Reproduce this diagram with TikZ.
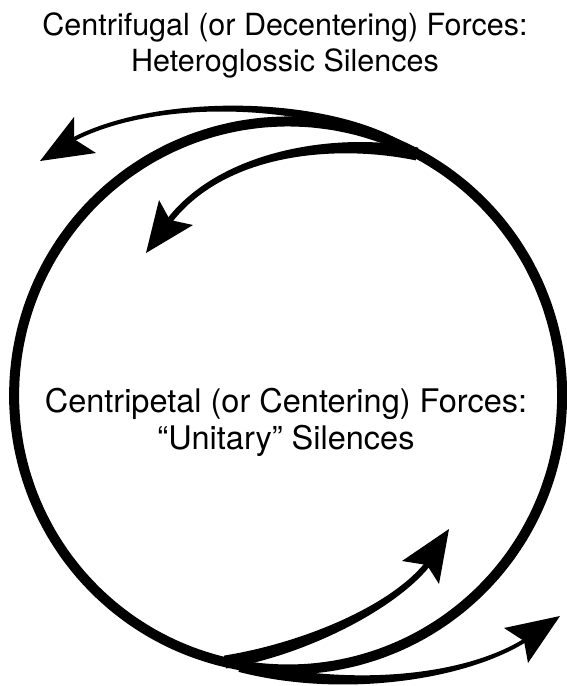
\documentclass[tikz,border=0pt]{standalone}
\usepackage{fontspec}
\setmainfont{TeX Gyre Heros}
\usetikzlibrary{calc}
\tikzset{
  ringline/.style={draw=black, line width=10pt},
  shaftfill/.style={fill=black},
  headfill/.style={fill=black},
  toptext/.style={align=center, inner sep=0pt, font=\fontsize{30.5}{36}\selectfont},
  midtext/.style={align=center, inner sep=0pt, font=\fontsize{32.5}{37}\selectfont}
}
% tapered shaft: start, control, control, end, half width at start, half width at end
\newcommand{\taperfill}[6]{%
  \fill[shaftfill] ($(#1)!#5!90:(#2)$) .. controls ($(#2)!#5!-90:(#1)$) and ($(#3)!#6!90:(#4)$) .. ($(#4)!#6!-90:(#3)$)
    -- ($(#4)!#6!90:(#3)$) .. controls ($(#3)!#6!-90:(#4)$) and ($(#2)!#5!90:(#1)$) .. ($(#1)!#5!-90:(#2)$) -- cycle;}

\begin{document}
\begin{tikzpicture}[x=1pt, y=-1pt]
  \useasboundingbox (0,0) rectangle (567,686);

  \node[toptext] (outer) at (285,45) {Centrifugal (or Decentering) Forces:\\Heteroglossic Silences};
  \node[midtext] (inner) at (286,422) {Centripetal (or Centering) Forces:\\“Unitary” Silences};

  % the loop, a little fuller to the upper right
  \draw[ringline] plot[domain=0:355, samples=72, smooth cycle]
    ({286+(274+5*cos(\x-65))*cos(\x)}, {400-(274+5*cos(\x-65))*sin(\x)});

  % upper arrows
  \coordinate (s1) at (400,146);
  \coordinate (p1) at (320,100);
  \coordinate (q1) at (160,95);
  \coordinate (n1) at (74,139);
  \coordinate (t1) at (40,161);
  \taperfill{s1}{p1}{q1}{n1}{5pt}{2pt}
  \fill[headfill] (t1) -- (74,117) -- (n1) -- (96,153) -- cycle;

  \coordinate (s2) at (417,154);
  \coordinate (p2) at (340,138);
  \coordinate (q2) at (225,150);
  \coordinate (n2) at (170,220);
  \coordinate (t2) at (146,253);
  \taperfill{s2}{p2}{q2}{n2}{6.5pt}{3pt}
  \fill[headfill] (t2) -- (159,200) -- (n2) -- (193,225) -- cycle;

  % lower arrows
  \coordinate (s3) at (225,662);
  \coordinate (p3) at (300,650);
  \coordinate (q3) at (390,610);
  \coordinate (n3) at (427,565);
  \coordinate (t3) at (449,529);
  \taperfill{s3}{p3}{q3}{n3}{6.5pt}{3pt}
  \fill[headfill] (t3) -- (402,561) -- (n3) -- (439,584) -- cycle;

  \coordinate (s4) at (240,666);
  \coordinate (p4) at (340,692);
  \coordinate (q4) at (460,680);
  \coordinate (n4) at (524,641);
  \coordinate (t4) at (560,616);
  \taperfill{s4}{p4}{q4}{n4}{6pt}{2pt}
  \fill[headfill] (t4) -- (504,628) -- (n4) -- (528,663) -- cycle;
\end{tikzpicture}
\end{document}
